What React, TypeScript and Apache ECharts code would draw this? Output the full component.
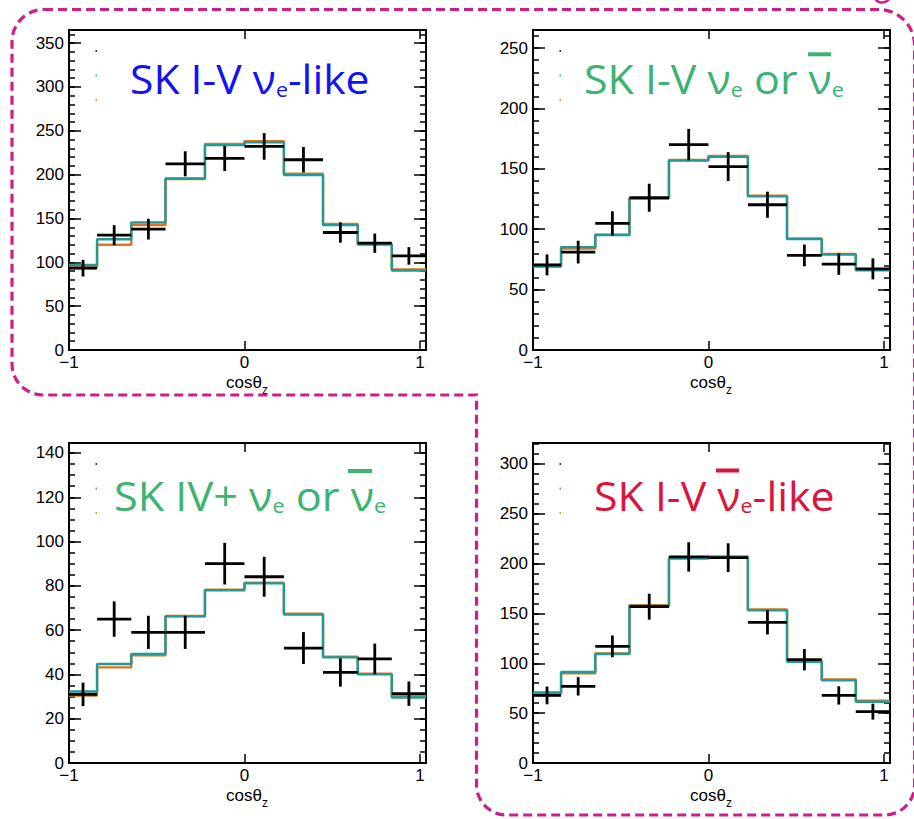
import React, { useEffect, useRef } from "react";
import * as echarts from "echarts";

// ---------- data ----------
const binEdges = [-1, -0.84, -0.645, -0.45, -0.225, 0, 0.225, 0.448, 0.646, 0.84, 1.035];
const xTickValues = [-1, 0, 1];
const xTickLabels = ["\u22121", "0", "1"];

// SK I-V nu_e-like
const p1Teal = [97, 126.4, 145.4, 195.6, 233.7, 236.8, 199.5, 142.4, 120.3, 90.6];
const p1Orange = [94.4, 120, 142.4, 195, 234.9, 238.3, 201, 143.9, 121, 92];
const p1Data = [93.3, 131, 137.8, 212.4, 218.5, 232.2, 217, 134, 121.8, 107.3];
const p1Err = [9.5, 11.4, 11.8, 14.3, 14.3, 15.2, 14.5, 11.6, 11, 10];

// SK I-V nu_e or nubar_e
const p2Teal = [69.1, 85.2, 95.2, 125.6, 156.8, 159.9, 127.2, 91.8, 79.1, 66.1];
const p2Orange = [69.5, 84.1, 95.5, 125.8, 157.4, 160.7, 127.8, 92.4, 79.6, 66.9];
const p2Data = [70.5, 81.1, 104.8, 126.1, 170.1, 151.9, 120.3, 78.3, 71.1, 67.2];
const p2Err = [8.7, 9.4, 10.1, 11.6, 13, 12, 10.8, 9, 8.9, 8.7];

// SK IV+ nu_e or nubar_e
const p3Teal = [32.3, 44.7, 49.2, 66.2, 78, 81.1, 67, 47.7, 40, 29.6];
const p3Orange = [30.5, 43.2, 48.6, 66.4, 78.2, 81.4, 67.4, 48, 40.3, 30.3];
const p3Data = [31, 65, 59, 59, 90, 84.1, 51.9, 40.9, 47, 31.3];
const p3Err = [5.3, 8, 7.5, 7.5, 9.4, 9, 7.2, 6.4, 6.9, 5.5];

// SK I-V nubar_e-like
const p4Teal = [70.8, 91.3, 109.4, 157.5, 205, 206.3, 153.1, 101.6, 82.9, 61.5];
const p4Orange = [69.5, 89.9, 109.9, 158.2, 206, 207.3, 154.1, 102.6, 83.9, 62.5];
const p4Data = [67.8, 76.9, 117, 156.8, 206.7, 206, 141.1, 103.6, 67.8, 51.5];
const p4Err = [8.9, 9.2, 10.9, 13, 14.7, 14.4, 12.2, 10.7, 9.2, 8];

const yMaxes = [365, 265, 144.5, 321];
const yMajors = [50, 50, 20, 50];
const yMinors = [10, 10, 5, 10];

const titleParts = [
  ["SK I-V \u03bd", "e", "-like"],
  ["SK I-V \u03bd", "e", " or \u03bd", "e"],
  ["SK IV+ \u03bd", "e", " or \u03bd", "e"],
  ["SK I-V \u03bd", "e", "-like"],
];
const axisTitleMain = "cos\u03b8";
const axisTitleSub = "z";

// ---------- layout / style ----------
const GRID_W = 357;
const GRID_H = 320;
const layouts = [
  { left: 69, top: 30 },
  { left: 533, top: 30 },
  { left: 69, top: 443 },
  { left: 533, top: 443 },
];
const titleStyles = [
  { color: "#1212f2", x: 130, baseline: 94, scaleX: 1.067, bar: null as null | number[] },
  { color: "#3cb371", x: 584, baseline: 94, scaleX: 1.074, bar: [808, 52.3, 23, 4] },
  { color: "#3cb371", x: 114, baseline: 510.7, scaleX: 1.08, bar: [348, 469, 24, 4] },
  { color: "#dc143c", x: 594, baseline: 510.7, scaleX: 1.072, bar: [716, 468.5, 23, 4] },
];
const TICK_FONT = "Liberation Sans, Arial, Helvetica, sans-serif";
const TITLE_FONT = "Open Sans, Noto Sans, sans-serif";
const TEAL = "#1f9a98";
const ORANGE = "#e0731c";
const MAGENTA = "#cc1f88";

const borderPath =
  "M 44 9.5 L 878.5 9.5 A 36 36 0 0 1 914.6 45.5 L 914.6 785 A 30 30 0 0 1 884.6 815 L 506.5 815 A 30 30 0 0 1 476.5 785 L 476.5 395 L 43 395 A 31 31 0 0 1 12 364 L 12 41.5 A 32 32 0 0 1 44 9.5 Z";

let registered = false;
function ensureShapes() {
  if (registered) return;
  echarts.graphic.registerShape("slideBorder", echarts.graphic.extendPath(borderPath, {}) as any);
  registered = true;
}

const panels = [
  { teal: p1Teal, orange: p1Orange, data: p1Data, err: p1Err },
  { teal: p2Teal, orange: p2Orange, data: p2Data, err: p2Err },
  { teal: p3Teal, orange: p3Orange, data: p3Data, err: p3Err },
  { teal: p4Teal, orange: p4Orange, data: p4Data, err: p4Err },
];

function stepData(vals: number[]) {
  const out: number[][] = vals.map((v, k) => [binEdges[k], v]);
  out.push([binEdges[binEdges.length - 1], vals[vals.length - 1]]);
  return out;
}

function buildOption() {
  const grid: any[] = [];
  const xAxis: any[] = [];
  const yAxis: any[] = [];
  const series: any[] = [];
  const graphic: any[] = [];

  graphic.push({
    type: "slideBorder",
    x: 0,
    y: 0,
    silent: true,
    style: { fill: "none", stroke: MAGENTA, lineWidth: 3.2, lineDash: [9, 5] },
    z: 100,
  });
  graphic.push({
    type: "arc",
    shape: { cx: 882, cy: -6, r: 8.5, startAngle: 0.6, endAngle: Math.PI - 0.6 },
    style: { stroke: MAGENTA, lineWidth: 2.5, fill: "none" },
    z: 100,
  });

  panels.forEach((p, i) => {
    const L = layouts[i];
    grid.push({
      left: L.left,
      top: L.top,
      width: GRID_W,
      height: GRID_H,
      show: true,
      borderColor: "#000",
      borderWidth: 2,
      backgroundColor: "transparent",
    });
    const xFmt = (v: number) => {
      const k = xTickValues.findIndex((t) => Math.abs(t - v) < 1e-6);
      return k >= 0 ? xTickLabels[k] : "";
    };
    const xBase = {
      gridIndex: i,
      type: "value",
      min: binEdges[0],
      max: binEdges[binEdges.length - 1],
      interval: 1,
      axisLine: { show: false, onZero: false },
      splitLine: { show: false },
      axisTick: { show: true, inside: true, length: 9, lineStyle: { color: "#000", width: 1.5 } },
    };
    xAxis.push({
      ...xBase,
      position: "bottom",
      axisLabel: {
        show: true,
        fontFamily: TICK_FONT,
        fontSize: 17,
        color: "#000",
        margin: 4,
        showMaxLabel: false,
        formatter: xFmt,
      },
    });
    xAxis.push({ ...xBase, position: "top", axisLabel: { show: false } });

    const yMax = yMaxes[i];
    const major = yMajors[i];
    const minor = yMinors[i];
    const yFmt = (v: number) => (Math.abs(v / major - Math.round(v / major)) < 1e-6 ? String(v) : "");
    const yBase = {
      gridIndex: i,
      type: "value",
      min: 0,
      max: yMax,
      axisLine: { show: false, onZero: false },
      splitLine: { show: false },
    };
    yAxis.push({
      ...yBase,
      position: "left",
      interval: major,
      axisTick: { show: true, inside: true, length: 12, lineStyle: { color: "#000", width: 1.5 } },
      axisLabel: {
        show: true,
        fontFamily: TICK_FONT,
        fontSize: 17,
        color: "#000",
        margin: 5,
        showMaxLabel: false,
        formatter: yFmt,
      },
    });
    yAxis.push({
      ...yBase,
      position: "left",
      interval: minor,
      axisTick: { show: true, inside: true, length: 6, lineStyle: { color: "#000", width: 1.5 } },
      axisLabel: { show: false },
    });
    yAxis.push({
      ...yBase,
      position: "right",
      interval: major,
      axisTick: { show: true, inside: true, length: 12, lineStyle: { color: "#000", width: 1.5 } },
      axisLabel: { show: false },
    });
    yAxis.push({
      ...yBase,
      position: "right",
      interval: minor,
      axisTick: { show: true, inside: true, length: 6, lineStyle: { color: "#000", width: 1.5 } },
      axisLabel: { show: false },
    });

    const xi = 2 * i;
    const yi = 4 * i;
    series.push({
      type: "line",
      xAxisIndex: xi,
      yAxisIndex: yi,
      data: stepData(p.orange),
      step: "end",
      symbol: "none",
      silent: true,
      lineStyle: { color: ORANGE, width: 2.4 },
      z: 2,
    });
    series.push({
      type: "line",
      xAxisIndex: xi,
      yAxisIndex: yi,
      data: stepData(p.teal),
      step: "end",
      symbol: "none",
      silent: true,
      lineStyle: { color: TEAL, width: 2.4 },
      z: 3,
    });
    series.push({
      type: "custom",
      xAxisIndex: xi,
      yAxisIndex: yi,
      silent: true,
      z: 4,
      encode: { x: [0, 1], y: [2] },
      data: p.data.map((v, k) => [binEdges[k], binEdges[k + 1], v, p.err[k]]),
      renderItem: (_params: any, api: any) => {
        const lo = api.value(0);
        const hi = api.value(1);
        const v = api.value(2);
        const e = api.value(3);
        const mid = (lo + hi) / 2;
        const a = api.coord([lo, v]);
        const b = api.coord([hi, v]);
        const t = api.coord([mid, v + e]);
        const d = api.coord([mid, v - e]);
        const st = { stroke: "#000", lineWidth: 2.8 };
        return {
          type: "group",
          children: [
            { type: "line", shape: { x1: a[0], y1: a[1], x2: b[0], y2: b[1] }, style: st },
            { type: "line", shape: { x1: t[0], y1: t[1], x2: d[0], y2: d[1] }, style: st },
          ],
        };
      },
    });

    // title
    const ts = titleStyles[i];
    const parts = titleParts[i];
    const text = parts.map((s, k) => (k % 2 === 0 ? `{m|${s}}` : `{s|${s}}`)).join("");
    graphic.push({
      type: "text",
      x: ts.x,
      y: ts.baseline - 15.5,
      scaleX: ts.scaleX,
      z: 50,
      style: {
        text,
        x: 0,
        y: 0,
        align: "left",
        verticalAlign: "middle",
        rich: {
          m: { fontSize: 40, fontFamily: TITLE_FONT, fill: ts.color },
          s: { fontSize: 20, fontFamily: TITLE_FONT, fill: ts.color, padding: [21, 0, 0, 0] },
        },
      },
    });
    if (ts.bar) {
      graphic.push({
        type: "rect",
        shape: { x: ts.bar[0], y: ts.bar[1], width: ts.bar[2], height: ts.bar[3] },
        style: { fill: ts.color },
        z: 50,
      });
    }
    // legend remnants
    ["#333", "#2ab6b6", "#e8913a"].forEach((c, k) => {
      graphic.push({
        type: "rect",
        shape: { x: L.left + 26.5, y: L.top + 20 + k * 24.5, width: 1.5, height: 2 },
        style: { fill: c },
        z: 50,
      });
    });
    // axis title
    graphic.push({
      type: "text",
      x: L.left + 178,
      y: L.top + GRID_H + 38.5 - 5.9,
      z: 50,
      style: {
        text: `{m|${axisTitleMain}}{s|${axisTitleSub}}`,
        align: "center",
        verticalAlign: "middle",
        rich: {
          m: { fontSize: 17, fontFamily: TICK_FONT, fill: "#000" },
          s: { fontSize: 12, fontFamily: TICK_FONT, fill: "#000", padding: [15, 0, 0, 0] },
        },
      },
    });
  });

  return {
    animation: false,
    backgroundColor: "#fff",
    grid,
    xAxis,
    yAxis,
    series,
    graphic,
  };
}

export default function App() {
  const ref = useRef<HTMLDivElement>(null);
  useEffect(() => {
    if (!ref.current) return;
    ensureShapes();
    const chart = echarts.init(ref.current, null, { renderer: "svg" });
    chart.setOption(buildOption() as any);
    return () => chart.dispose();
  }, []);
  return (
    <div
      ref={ref}
      style={{ position: "absolute", left: 0, top: 0, width: 914, height: 819 }}
    />
  );
}
